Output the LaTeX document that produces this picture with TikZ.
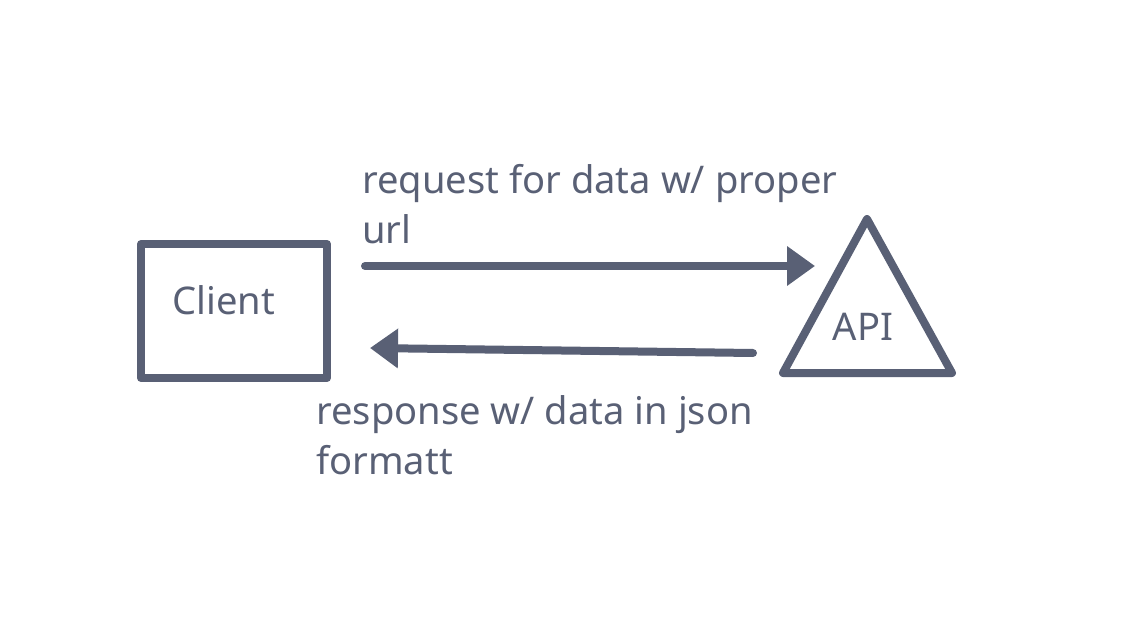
\documentclass[tikz,border=0pt]{standalone}
\usepackage{fontspec}
\setmainfont{Noto Sans}
\usetikzlibrary{arrows.meta}
\definecolor{slate}{RGB}{89,96,117}
\tikzset{
  box/.style={draw=slate, line width=1.6mm, line join=round, minimum width=3.72cm, minimum height=2.68cm, inner sep=0},
  txt/.style={text=slate, font=\fontsize{21.7}{28.5}\selectfont, inner sep=0, align=left},
  msg/.style={draw=slate, line width=1.6mm, line cap=round, -{Triangle[length=5.6mm, width=7.6mm]}}
}
\begin{document}
\begin{tikzpicture}[x=0.02cm, y=-0.02cm]
  \useasboundingbox (0,0) rectangle (1134,622);
  % client side
  \node[box] (client) at (234,311) {};
  \node[txt] (clientname) at (224,300) {Client};
  % api side
  \coordinate (top) at (867,219);
  \coordinate (left) at (783,373);
  \coordinate (right) at (952,373);
  \draw[slate, line width=1.6mm, line join=round] (top) -- (left) -- (right) -- cycle;
  \node[txt] (apiname) at (863,327) {API};
  % messages
  \coordinate (reqstart) at (365,266);
  \coordinate (reqend) at (815,266);
  \coordinate (respstart) at (753,353);
  \coordinate (respend) at (370,348);
  \draw[msg] (reqstart) -- (reqend);
  \draw[msg] (respstart) -- (respend);
  \node[txt, anchor=north west] (reqlabel) at (362,164) {request for data w/ proper\\url};
  \node[txt, anchor=north west] (resplabel) at (316,395) {response w/ data in json\\formatt};
\end{tikzpicture}
\end{document}
